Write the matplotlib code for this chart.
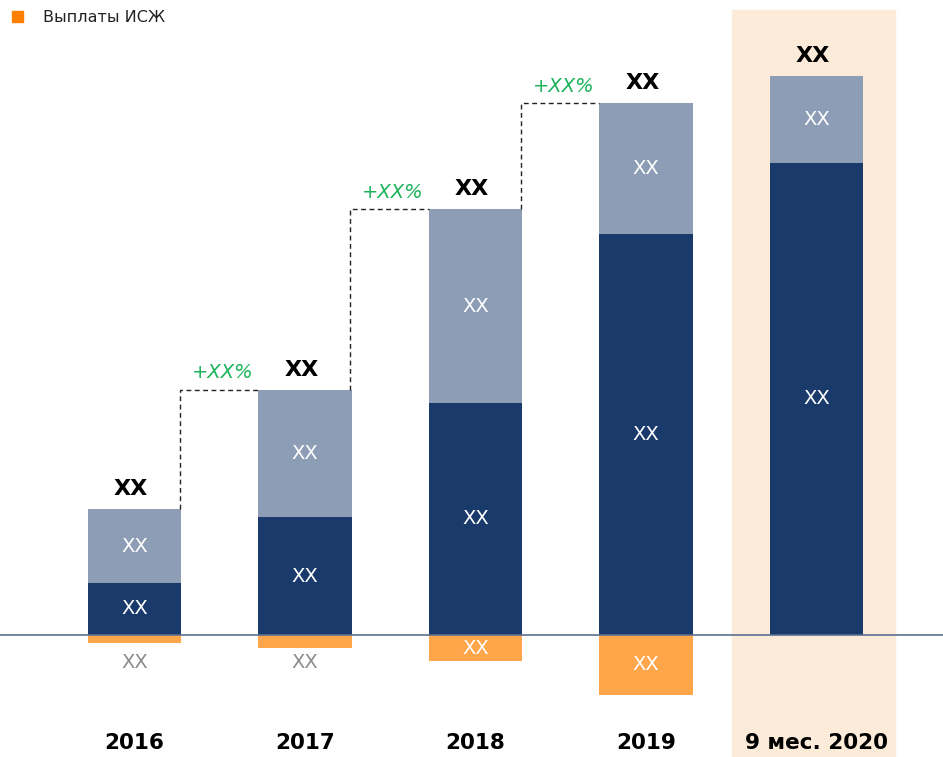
import numpy as np
import matplotlib.pyplot as plt
from matplotlib.patches import Rectangle

# payouts structure by year
years = ['2016', '2017', '2018', '2019', '9 мес. 2020']
dark_vals = [52, 118, 232, 401, 472]
light_vals = [74, 127, 194, 131, 87]
isz_vals = [-8, -13, -26, -60, 0]
seg_labels = ['XX'] * 5
total_labels = ['XX'] * 5
growth_labels = ['+XX%', '+XX%', '+XX%']

DARK = '#1A3A6B'
LIGHT = '#8C9DB5'
ORANGE = '#FFA54A'
GREEN = '#1DB35B'
HILITE = '#FDEBDA'

plt.rcParams['font.family'] = ['DejaVu Sans']

fig = plt.figure(figsize=(9.43, 7.57), dpi=100)
ax = fig.add_axes([0, 0, 1, 1])
ax.set_xlim(-0.789, 4.742)
ax.set_ylim(-122, 635)
ax.axis('off')

x = np.arange(len(years))
w = 0.551

# highlight for the last period
ax.add_patch(Rectangle((3.504, -130), 0.956, 755, color=HILITE, zorder=0))

dark = np.array(dark_vals)
light = np.array(light_vals)
isz = np.array(isz_vals)
tops = dark + light

ax.bar(x, dark, width=w, color=DARK, zorder=2)
ax.bar(x, light, width=w, bottom=dark, color=LIGHT, zorder=2)
ax.bar(x, isz, width=w, color=ORANGE, zorder=2)
ax.axhline(0, color='#5A6F8F', lw=1.2, zorder=3)

for i in range(len(years)):
    ax.text(x[i], dark[i] / 2, seg_labels[i], color='white', fontsize=14,
            ha='center', va='center', zorder=4)
    ax.text(x[i], dark[i] + light[i] / 2, seg_labels[i], color='white',
            fontsize=14, ha='center', va='center', zorder=4)
    ax.text(x[i] - 0.02, tops[i] + 20, total_labels[i], color='black',
            fontsize=16, fontweight='bold', ha='center', va='center', zorder=4)
    if isz[i] < 0:
        if isz[i] < -20:
            ax.text(x[i], isz[i] / 2, seg_labels[i], color='white', fontsize=14,
                    ha='center', va='center', zorder=4)
        else:
            ax.text(x[i], -28, seg_labels[i], color='#8C8C8C', fontsize=14,
                    ha='center', va='center', zorder=4)
    ax.text(x[i], -108, years[i], color='black', fontsize=15.5,
            fontweight='bold', ha='center', va='center', zorder=4)

# growth connectors between consecutive years
for i, lab in enumerate(growth_labels):
    x0 = x[i] + w / 2 - 0.01
    x1 = x[i + 1] - w / 2
    ax.plot([x0, x0, x1], [tops[i], tops[i + 1], tops[i + 1]],
            color='#222222', lw=1, ls=(0, (3.5, 2.5)), zorder=3)
    ax.text((x0 + x1) / 2 + 0.02, tops[i + 1] + 17, lab, color=GREEN,
            fontsize=14, fontstyle='italic', ha='center', va='center', zorder=4)

# legend
fig.patches.append(Rectangle((12 / 943, 1 - 22 / 757), 11 / 943, 11 / 757,
                             color='#FF8000', transform=fig.transFigure))
fig.text(43 / 943, 1 - 17 / 757, 'Выплаты ИСЖ', fontsize=11.5, va='center',
         ha='left', color='#222222')

fig.savefig('out.png', dpi=100)
